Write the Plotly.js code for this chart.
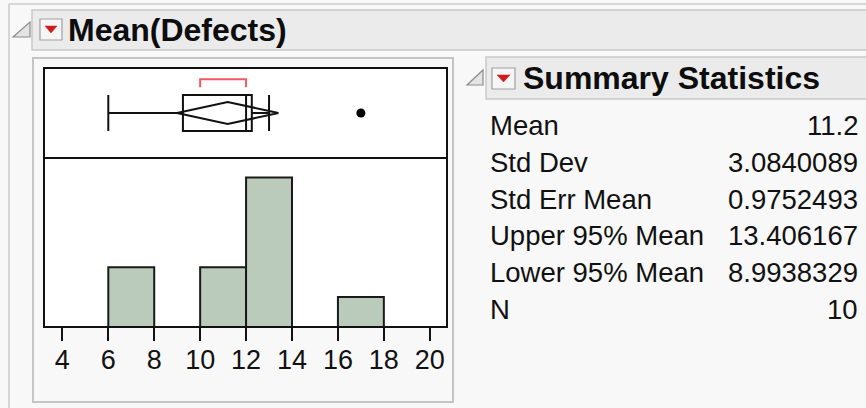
<!DOCTYPE html>
<html>
<head>
<meta charset="utf-8">
<script src="https://cdn.plot.ly/plotly-3.0.1.min.js"></script>
<style>
  html, body { margin: 0; padding: 0; background: #f8f8f8; }
  #chart { width: 866px; height: 408px; }
</style>
</head>
<body>
<div id="chart"></div>
<script>
// ---------------- data ----------------
var defects = [6, 7, 10, 11, 12, 12, 12, 12, 13, 17];
var statLabels = ["Mean", "Std Dev", "Std Err Mean", "Upper 95% Mean", "Lower 95% Mean", "N"];
var statValues = [11.2, 3.0840089, 0.9752493, 13.406167, 8.9938329, 10];
var statText   = ["11.2", "3.0840089", "0.9752493", "13.406167", "8.9938329", "10"];
var tickValues = [4, 6, 8, 10, 12, 14, 16, 18, 20];
var tickLabels = ["4", "6", "8", "10", "12", "14", "16", "18", "20"];
var titleText = "Mean(Defects)";
var statsTitle = "Summary Statistics";

// ---------------- helpers ----------------
var W = 866, H = 408;
var PL = 44, PR = 447, PT = 68, PB = 327;           // plot frame in pixels
var PW = PR - PL, PH = PB - PT;
function fx(px) { return (px - PL) / PW; }
function fy(py) { return (PB - py) / PH; }
var boxDomainStart = (PB - 158) / PH;

// JMP-style quantile ((n+1)p)
var sorted = defects.slice().sort(function (a, b) { return a - b; });
function quant(p) {
  var n = sorted.length, r = (n + 1) * p;
  var lo = Math.floor(r), fr = r - lo;
  if (lo < 1) return sorted[0];
  if (lo >= n) return sorted[n - 1];
  return sorted[lo - 1] + fr * (sorted[lo] - sorted[lo - 1]);
}
var q1 = quant(0.25), med = quant(0.5), q3 = quant(0.75), iqr = q3 - q1;
var inside = sorted.filter(function (v) { return v >= q1 - 1.5 * iqr && v <= q3 + 1.5 * iqr; });
var lf = Math.min.apply(null, inside), uf = Math.max.apply(null, inside);
var outliers = sorted.filter(function (v) { return v < q1 - 1.5 * iqr || v > q3 + 1.5 * iqr; });
// shortest half
var hn = Math.floor(sorted.length / 2) + 1, shA = sorted[0], shB = sorted[sorted.length - 1];
for (var i = 0; i + hn - 1 < sorted.length; i++) {
  if (sorted[i + hn - 1] - sorted[i] < shB - shA) { shA = sorted[i]; shB = sorted[i + hn - 1]; }
}
var mean = statValues[0], up95 = statValues[3], lo95 = statValues[4];

// ---------------- traces ----------------
var dh = 0.245;
var traces = [
  {
    type: "histogram", x: defects, xaxis: "x", yaxis: "y",
    xbins: { start: 4, end: 20, size: 2 },
    marker: { color: "#bacabb", line: { color: "#1a1a1a", width: 2 } },
    hoverinfo: "skip"
  },
  {
    type: "box", orientation: "h", y: [0], xaxis: "x", yaxis: "y2",
    q1: [q1], median: [med], q3: [q3], lowerfence: [lf], upperfence: [uf],
    width: 0.8, whiskerwidth: 1, boxpoints: false,
    fillcolor: "rgba(255,255,255,0)", line: { color: "#111", width: 2 },
    hoverinfo: "skip"
  },
  {
    type: "scatter", mode: "lines", xaxis: "x", yaxis: "y2",
    x: [lo95, mean, up95, mean, lo95], y: [0, dh, 0, -dh, 0],
    line: { color: "#111", width: 2 }, hoverinfo: "skip"
  },
  {
    type: "scatter", mode: "markers", xaxis: "x", yaxis: "y2",
    x: outliers, y: outliers.map(function () { return 0; }),
    marker: { color: "#000", size: 9 }, hoverinfo: "skip"
  },
  {
    type: "scatter", mode: "lines", xaxis: "x", yaxis: "y2",
    x: [shA, shA, shB, shB], y: [0.57, 0.75, 0.75, 0.57],
    line: { color: "#f05a60", width: 2 }, hoverinfo: "skip"
  }
];

// ---------------- decoration ----------------
function rect(x0, y0, x1, y1, fill, line, lw, layer) {
  return { type: "rect", xref: "paper", yref: "paper", x0: fx(x0), x1: fx(x1), y0: fy(y0), y1: fy(y1),
           fillcolor: fill, line: { color: line, width: lw }, layer: layer || "below" };
}
function path(pts, fill, line, lw, layer) {
  var d = pts.map(function (p, k) { return (k ? "L" : "M") + fx(p[0]) + "," + fy(p[1]); }).join(" ") + " Z";
  return { type: "path", xref: "paper", yref: "paper", path: d, fillcolor: fill,
           line: { color: line, width: lw }, layer: layer || "below" };
}
function lineS(x0, y0, x1, y1, col, lw, layer) {
  return { type: "line", xref: "paper", yref: "paper", x0: fx(x0), x1: fx(x1), y0: fy(y0), y1: fy(y1),
           line: { color: col, width: lw }, layer: layer || "below" };
}
var shapes = [
  lineS(9, 4, 870, 4, "#d6d6d6", 2),
  lineS(9, 4, 9, 412, "#d6d6d6", 2),
  rect(32, 10, 872, 50, "#ebebeb", "#c9c9c9", 1.5),
  path([[30, 22], [30, 37], [13, 37]], "#e4e4e4", "#8c8c8c", 1.2),
  rect(40, 19, 62, 40, "#f6f6f6", "#a0a0a0", 1.2),
  path([[45, 26], [57, 26], [51, 33]], "#d01c1c", "#d01c1c", 0.5),
  rect(33, 58, 453, 402, "#f8f8f8", "#c4c4c4", 2),
  rect(PL, PT, PR, PB, "#ffffff", "rgba(0,0,0,0)", 0),
  path([[483, 70], [483, 85], [467, 85]], "#e4e4e4", "#8c8c8c", 1.2),
  rect(486, 57, 872, 99, "#ebebeb", "#c9c9c9", 1.5),
  rect(492, 68, 515, 89, "#f6f6f6", "#a0a0a0", 1.2),
  path([[497, 75], [510, 75], [503.5, 82]], "#d01c1c", "#d01c1c", 0.5),
  rect(PL, PT, PR, PB, "rgba(0,0,0,0)", "#111", 2, "above"),
  lineS(PL, 158, PR, 158, "#111", 2, "above")
];

var FONT = "Arial, 'Liberation Sans', sans-serif";
var annotations = [
  { text: "<b>" + titleText + "</b>", xref: "paper", yref: "paper", x: fx(66), y: fy(30),
    xanchor: "left", yanchor: "middle", showarrow: false, font: { family: FONT, size: 32, color: "#0d0d0d" } },
  { text: "<b>" + statsTitle + "</b>", xref: "paper", yref: "paper", x: fx(521), y: fy(78),
    xanchor: "left", yanchor: "middle", showarrow: false, font: { family: FONT, size: 32, color: "#0d0d0d" } }
];
var rowY = [125, 162, 199, 235.5, 272, 309];
for (var r = 0; r < statLabels.length; r++) {
  annotations.push({ text: statLabels[r], xref: "paper", yref: "paper", x: fx(488), y: fy(rowY[r]),
    xanchor: "left", yanchor: "middle", showarrow: false, font: { family: FONT, size: 27.5, color: "#111" } });
  annotations.push({ text: statText[r], xref: "paper", yref: "paper", x: fx(860), y: fy(rowY[r]),
    xanchor: "right", yanchor: "middle", showarrow: false, font: { family: FONT, size: 27.5, color: "#111" } });
}

var layout = {
  width: W, height: H,
  margin: { l: PL, r: W - PR, t: PT, b: H - PB, pad: 0, autoexpand: false },
  paper_bgcolor: "#f8f8f8", plot_bgcolor: "rgba(0,0,0,0)",
  showlegend: false, bargap: 0,
  xaxis: {
    range: [3.2, 20.75], domain: [0, 1], anchor: "y",
    tickmode: "array", tickvals: tickValues, ticktext: tickLabels,
    ticks: "outside", ticklen: 13, tickwidth: 2, tickcolor: "#111",
    ticklabelstandoff: -4,
    showline: false, showgrid: false, zeroline: false,
    tickfont: { family: FONT, size: 27, color: "#111" }
  },
  yaxis: { domain: [0, boxDomainStart], range: [0, 5.65], showticklabels: false, showgrid: false,
           zeroline: false, ticks: "", showline: false, fixedrange: true },
  yaxis2: { domain: [boxDomainStart, 1], range: [-1, 1], anchor: "x", showticklabels: false, showgrid: false,
            zeroline: false, ticks: "", showline: false, fixedrange: true },
  shapes: shapes,
  annotations: annotations
};

Plotly.newPlot("chart", traces, layout, { staticPlot: true, displayModeBar: false });
</script>
</body>
</html>
